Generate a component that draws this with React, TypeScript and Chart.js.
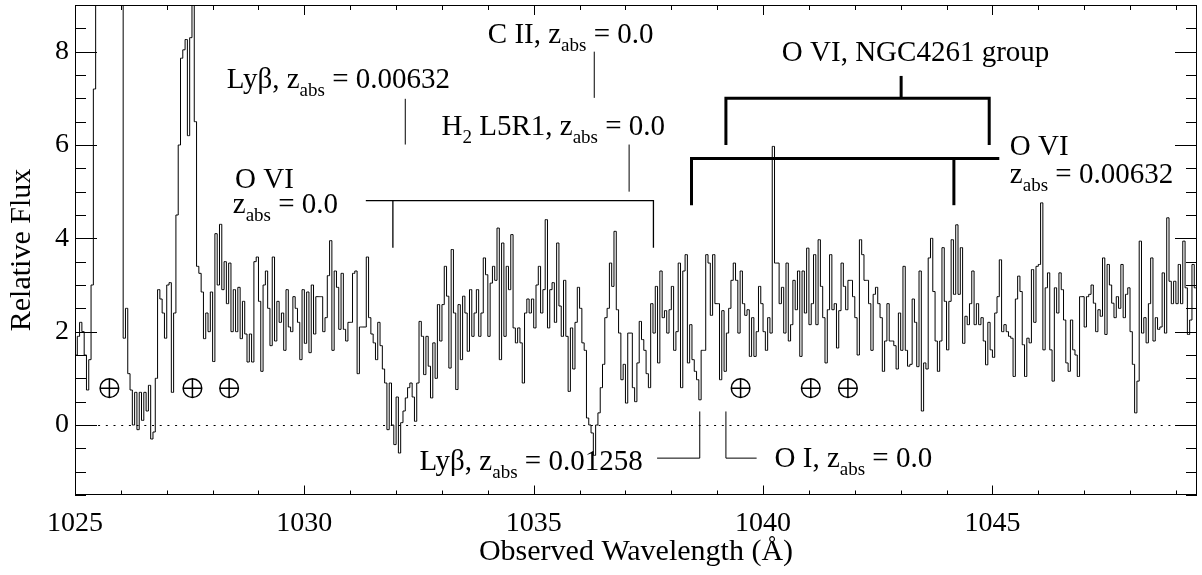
import React, { useEffect, useRef } from "react";
import { Chart, registerables } from "chart.js";

Chart.register(...registerables);

// Spectrum: flux per 0.05 Å bin starting at 1025.00 Å
const WAVE_START = 1025.0;
const BIN_WIDTH = 0.05;

const FLUX_1025_1030 = [
  1.5, 1.9, 2.2, 2.0, 1.5, 0.75, 1.4, 3.0, 7.2, 12,
  16, 20, 24, 26, 25, 22, 19, 16, 13, 11,
  10, 1.86, 2.5, 1.1, 0.75, 0.0, 0.7, -0.1, 0.7, 0.1,
  0.7, 0.3, 0.85, -0.3, -0.15, 1.0, 2.9, 2.7, 2.4, 1.86,
  3.0, 3.05, 0.7, 2.4, 4.5, 6.0, 7.86, 8.04, 8.26, 6.2,
  8.3, 9.5, 6.5, 3.4, 3.25, 2.85, 1.85, 2.4, 2.0, 2.85,
  1.36, 4.1, 3.0, 4.3, 2.9, 3.5, 2.6, 3.47, 2.0, 2.9,
  2.0, 2.95, 1.85, 2.65, 1.95, 1.35, 1.95, 1.35, 3.5, 3.6,
  2.65, 1.15, 3.0, 3.3, 2.5, 1.7, 3.6, 1.8, 2.65, 2.2,
  2.4, 1.6, 2.9, 2.1, 2.0, 2.75, 2.5, 2.2, 1.4, 2.9,
];
const FLUX_1030_1035 = [
  1.75, 2.85, 1.55, 3.0, 1.95, 2.75, 2.75, 2.75, 2.0, 2.3,
  3.2, 3.95, 1.6, 3.3, 2.95, 2.05, 3.25, 2.05, 1.8, 2.2,
  2.2, 3.25, 3.3, 1.1, 2.1, 2.1, 2.1, 3.6, 2.3, 1.95,
  1.76, 1.4, 2.2, 1.7, 1.2, 0.9, -0.1, 0.9, 0.0, -0.42,
  0.6, -0.6, 0.05, 0.3, 0.58, 0.8, 0.9, 0.6, 0.08, 0.9,
  2.22, 1.9, 1.08, 1.9, 1.26, 0.58, 1.76, 1.0, 2.58, 1.8,
  2.58, 3.4, 2.76, 1.22, 3.76, 2.4, 0.76, 2.58, 1.4, 2.76,
  2.4, 1.58, 2.9, 1.9, 2.4, 2.9, 1.9, 2.4, 3.58, 3.22,
  1.9, 3.04, 3.4, 3.1, 4.22, 1.4, 3.9, 1.9, 3.4, 2.9,
  4.08, 2.08, 1.76, 2.08, 1.76, 0.9, 2.4, 2.7, 2.4, 2.7,
];
const FLUX_1035_1040 = [
  2.08, 3.0, 3.4, 2.4, 2.9, 4.4, 2.08, 2.9, 3.05, 2.2,
  3.9, 2.55, 1.9, 3.1, 1.9, 0.72, 2.08, 1.2, 2.2, 2.95,
  2.5, 1.76, 1.6, 0.15, 0.0, -0.17, -0.65, 0.0, 0.26, 0.8,
  1.3, 2.3, 2.5, 3.47, 2.97, 4.15, 2.47, 1.97, 0.97, 1.3,
  0.47, 1.97, 1.97, 0.8, 0.5, 1.33, 2.22, 1.83, 1.6, 1.1,
  0.8, 2.6, 1.97, 2.97, 1.33, 3.3, 2.3, 2.45, 1.97, 2.47,
  2.97, 1.6, 2.0, 3.47, 0.8, 3.3, 3.65, 1.33, 2.15, 1.4,
  1.15, 0.97, 0.54, 1.6, 1.6, 3.65, 3.47, 2.35, 3.65, 2.6,
  2.6, 0.97, 2.45, 1.15, 1.97, 2.5, 3.1, 3.47, 3.1, 1.97,
  3.3, 2.6, 2.35, 2.47, 1.47, 2.3, 1.47, 2.0, 2.97, 2.6,
];
const FLUX_1040_1045 = [
  2.0, 1.6, 2.3, 1.97, 5.97, 3.47, 3.47, 2.6, 2.95, 1.97,
  3.47, 1.8, 2.15, 3.1, 2.47, 3.3, 1.47, 3.3, 2.4, 3.79,
  2.15, 2.6, 3.65, 2.15, 3.97, 2.97, 2.3, 1.33, 2.47, 3.65,
  2.47, 2.6, 1.65, 2.45, 3.47, 2.97, 2.47, 3.1, 3.1, 2.75,
  2.3, 1.5, 3.97, 3.65, 3.1, 3.1, 2.6, 1.6, 2.8, 2.95,
  2.6, 2.3, 1.15, 1.8, 2.6, 1.8, 1.8, 1.7, 1.2, 2.4,
  1.6, 3.4, 1.6, 1.26, 1.3, 2.7, 2.2, 1.25, 3.3, 0.3,
  1.33, 1.2, 3.58, 4.0, 2.86, 1.8, 1.15, 1.8, 3.8, 2.65,
  1.61, 2.65, 3.97, 2.8, 4.29, 2.8, 3.8, 1.75, 2.33, 2.15,
  2.6, 3.3, 2.15, 2.6, 2.15, 2.3, 1.8, 1.29, 2.2, 1.61,
];
const FLUX_1045_1049 = [
  1.45, 2.4, 2.75, 3.54, 2.0, 2.15, 2.0, 1.9, 1.86, 1.04,
  2.7, 3.19, 2.86, 1.72, 1.04, 1.86, 1.76, 3.33, 2.2, 3.4,
  3.44, 4.76, 1.61, 2.94, 3.26, 1.61, 0.94, 2.94, 2.4, 3.26,
  2.9, 2.25, 1.33, 1.15, 2.25, 1.61, 1.5, 1.04, 2.75, 2.75,
  2.1, 2.75, 2.8, 3.0, 2.61, 2.0, 2.47, 2.33, 3.58, 1.94,
  3.44, 3.0, 2.61, 2.3, 2.75, 2.5, 3.44, 2.3, 2.8, 2.94,
  2.0, 1.3, 0.26, 0.94, 3.94, 1.97, 2.3, 1.76, 2.6, 3.58,
  1.8, 2.3, 2.05, 2.1, 3.26, 1.97, 4.44, 3.08, 2.6, 3.08,
  2.6, 3.44, 2.6, 3.94, 2.94, 1.94, 2.25, 3.44, 2.94, 3.1,
];

const X_MIN = 1025;
const X_MAX = 1049.46;
const Y_MIN = -1.5;
const Y_MAX = 9;
const X_TICK_LABELS = [1025, 1030, 1035, 1040, 1045];
const Y_TICK_LABELS = [0, 2, 4, 6, 8];
const X_MINOR_STEP = 1;
const Y_MINOR_STEP = 0.5;

// Earth (airglow) symbols
const EARTH_WAVES = [1025.75, 1027.56, 1028.36, 1039.51, 1041.04, 1041.85];
const EARTH_FLUX = 0.79;

const FONT_FAMILY = '"Liberation Serif", "Times New Roman", serif';
const MAIN_FONT = `29px ${FONT_FAMILY}`;
const SUB_FONT = `19px ${FONT_FAMILY}`;
const SUB_DROP = 8;

type Part = [string, number];
const ANNOTATIONS: { text: Part[]; at: [number, number] }[] = [
  { text: [["Lyβ, z", 0], ["abs", 1], [" = 0.00632", 0]], at: [1028.31, 7.23] },
  { text: [["C II, z", 0], ["abs", 1], [" = 0.0", 0]], at: [1034.0, 8.19] },
  { text: [["H", 0], ["2", 1], [" L5R1, z", 0], ["abs", 1], [" = 0.0", 0]], at: [1032.99, 6.22] },
  { text: [["O VI", 0]], at: [1028.49, 5.08] },
  { text: [["z", 0], ["abs", 1], [" = 0.0", 0]], at: [1028.44, 4.55] },
  { text: [["O VI, NGC4261 group", 0]], at: [1040.41, 7.79] },
  { text: [["O VI", 0]], at: [1045.38, 5.79] },
  { text: [["z", 0], ["abs", 1], [" = 0.00632", 0]], at: [1045.38, 5.19] },
  { text: [["Lyβ, z", 0], ["abs", 1], [" = 0.01258", 0]], at: [1032.51, -0.96] },
  { text: [["O I, z", 0], ["abs", 1], [" = 0.0", 0]], at: [1040.25, -0.91] },
];

const MARKER_LINES: { pts: [number, number][]; w: number }[] = [
  { pts: [[1032.2, 6.99], [1032.2, 6.01]], w: 1 },
  { pts: [[1036.32, 8.0], [1036.32, 7.01]], w: 1 },
  { pts: [[1037.08, 6.01], [1037.08, 5.0]], w: 1 },
  { pts: [[1031.34, 4.81], [1037.61, 4.81], [1037.61, 3.8]], w: 1.3 },
  { pts: [[1031.93, 4.81], [1031.93, 3.8]], w: 1.3 },
  { pts: [[1039.19, 6.0], [1039.19, 7.0], [1044.93, 7.0], [1044.93, 6.0]], w: 3 },
  { pts: [[1043.01, 7.0], [1043.01, 7.48]], w: 3 },
  { pts: [[1038.44, 4.71], [1038.44, 5.71], [1045.15, 5.71]], w: 3 },
  { pts: [[1044.16, 5.71], [1044.16, 4.71]], w: 3 },
  { pts: [[1037.69, -0.71], [1038.62, -0.71], [1038.62, 0.29]], w: 1 },
  { pts: [[1039.19, 0.29], [1039.19, -0.71], [1039.86, -0.71]], w: 1 },
];

const overlayPlugin = {
  id: "overlay",
  beforeDatasetsDraw(chart: any) {
    const { ctx, chartArea, scales } = chart;
    const y0 = scales.y.getPixelForValue(0);
    ctx.save();
    ctx.strokeStyle = "#000";
    ctx.lineWidth = 1;
    ctx.setLineDash([2, 5.7]);
    ctx.beginPath();
    ctx.moveTo(chartArea.left, Math.round(y0) + 0.5);
    ctx.lineTo(chartArea.right, Math.round(y0) + 0.5);
    ctx.stroke();
    ctx.restore();
  },
  afterDraw(chart: any) {
    const { ctx, chartArea, scales } = chart;
    const xs = scales.x;
    const ys = scales.y;
    const px = (v: number) => xs.getPixelForValue(v);
    const py = (v: number) => ys.getPixelForValue(v);
    const { left, right, top, bottom } = chartArea;
    ctx.save();
    ctx.strokeStyle = "#000";
    ctx.fillStyle = "#000";
    ctx.setLineDash([]);
    // frame
    ctx.lineWidth = 1;
    ctx.strokeRect(Math.round(left) + 0.5, Math.round(top) + 0.5, Math.round(right - left) - 1, Math.round(bottom - top) - 1);
    // x ticks
    ctx.beginPath();
    for (let v = Math.ceil(X_MIN); v <= X_MAX; v += X_MINOR_STEP) {
      const major = X_TICK_LABELS.includes(v);
      const x = Math.round(px(v)) + 0.5;
      const lb = major ? 9.5 : 4.5;
      const lt = major ? 10 : 5;
      ctx.moveTo(x, bottom);
      ctx.lineTo(x, bottom - lb);
      ctx.moveTo(x, top);
      ctx.lineTo(x, top + lt);
    }
    // y ticks
    for (let v = Y_MIN; v <= Y_MAX + 1e-9; v += Y_MINOR_STEP) {
      const major = Y_TICK_LABELS.includes(Math.round(v * 100) / 100);
      const y = Math.round(py(v)) + 0.5;
      const l = major ? 22 : 11;
      ctx.moveTo(left, y);
      ctx.lineTo(left + l, y);
      ctx.moveTo(right, y);
      ctx.lineTo(right - l, y);
    }
    ctx.stroke();

    // marker lines
    for (const m of MARKER_LINES) {
      ctx.lineWidth = m.w;
      ctx.beginPath();
      m.pts.forEach(([w, f], i) => {
        const x = px(w);
        const y = py(f);
        if (i === 0) ctx.moveTo(x, y);
        else ctx.lineTo(x, y);
      });
      ctx.stroke();
    }

    // annotation text
    ctx.textBaseline = "alphabetic";
    ctx.textAlign = "left";
    for (const a of ANNOTATIONS) {
      let cx = px(a.at[0]);
      const by = py(a.at[1]);
      for (const [t, sub] of a.text) {
        ctx.font = sub ? SUB_FONT : MAIN_FONT;
        ctx.fillText(t, cx, sub ? by + SUB_DROP : by);
        cx += ctx.measureText(t).width;
      }
    }

    // earth symbols (circle with cross)
    ctx.lineWidth = 1.5;
    const r = 9.3;
    for (const w of EARTH_WAVES) {
      const cx = px(w);
      const cy = py(EARTH_FLUX);
      ctx.beginPath();
      ctx.arc(cx, cy, r, 0, Math.PI * 2);
      ctx.moveTo(cx - r, cy);
      ctx.lineTo(cx + r, cy);
      ctx.moveTo(cx, cy - r);
      ctx.lineTo(cx, cy + r);
      ctx.stroke();
    }
    ctx.restore();
  },
};

export default function App() {
  const canvasRef = useRef<HTMLCanvasElement | null>(null);

  useEffect(() => {
    const canvas = canvasRef.current;
    if (!canvas) return;
    const flux = [
      ...FLUX_1025_1030,
      ...FLUX_1030_1035,
      ...FLUX_1035_1040,
      ...FLUX_1040_1045,
      ...FLUX_1045_1049,
    ];
    const points = flux.map((f, i) => ({ x: WAVE_START + BIN_WIDTH * (i + 0.5), y: f }));
    const tickFont = { family: FONT_FAMILY, size: 28 };
    const titleFont = { family: FONT_FAMILY, size: 30 };

    const chart = new Chart(canvas, {
      type: "line",
      data: {
        datasets: [
          {
            data: points,
            borderColor: "#000",
            borderWidth: 1,
            pointRadius: 0,
            stepped: "middle",
            fill: false,
            clip: 0,
            tension: 0,
          } as any,
        ],
      },
      options: {
        responsive: false,
        animation: false,
        devicePixelRatio: 1,
        layout: { padding: { left: 0, right: 5, top: 5, bottom: 0 } },
        plugins: { legend: { display: false }, tooltip: { enabled: false } },
        scales: {
          x: {
            type: "linear",
            position: "bottom",
            min: X_MIN,
            max: X_MAX,
            grid: { display: false, drawTicks: false },
            border: { display: false },
            ticks: {
              font: tickFont,
              color: "#000",
              padding: 12,
              maxRotation: 0,
              autoSkip: false,
              callback: (v: any) => String(v),
            },
            afterBuildTicks: (s: any) => {
              s.ticks = X_TICK_LABELS.map((v) => ({ value: v }));
            },
            afterFit: (s: any) => {
              s.height = 80;
              s.paddingLeft = 0;
              s.paddingRight = 0;
              s.paddingTop = 0;
              s.paddingBottom = 0;
            },
            title: {
              display: true,
              text: "Observed Wavelength (Å)",
              font: titleFont,
              color: "#000",
              padding: { top: 0, bottom: 5 },
            },
          },
          y: {
            type: "linear",
            position: "left",
            min: Y_MIN,
            max: Y_MAX,
            grid: { display: false, drawTicks: false },
            border: { display: false },
            ticks: {
              font: tickFont,
              color: "#000",
              padding: 6,
              autoSkip: false,
              callback: (v: any) => String(v),
            },
            afterBuildTicks: (s: any) => {
              s.ticks = Y_TICK_LABELS.map((v) => ({ value: v }));
            },
            afterFit: (s: any) => {
              s.width = 75;
              s.paddingLeft = 0;
              s.paddingRight = 0;
              s.paddingTop = 0;
              s.paddingBottom = 0;
            },
            title: {
              display: true,
              text: "Relative Flux",
              font: titleFont,
              color: "#000",
              padding: { top: 4, bottom: 0 },
            },
          },
        },
      } as any,
      plugins: [overlayPlugin],
    });
    return () => chart.destroy();
  }, []);

  return (
    <div style={{ position: "absolute", left: 0, top: 0, width: 1202, height: 575, background: "#fff" }}>
      <canvas ref={canvasRef} width={1202} height={575} style={{ display: "block" }} />
    </div>
  );
}
